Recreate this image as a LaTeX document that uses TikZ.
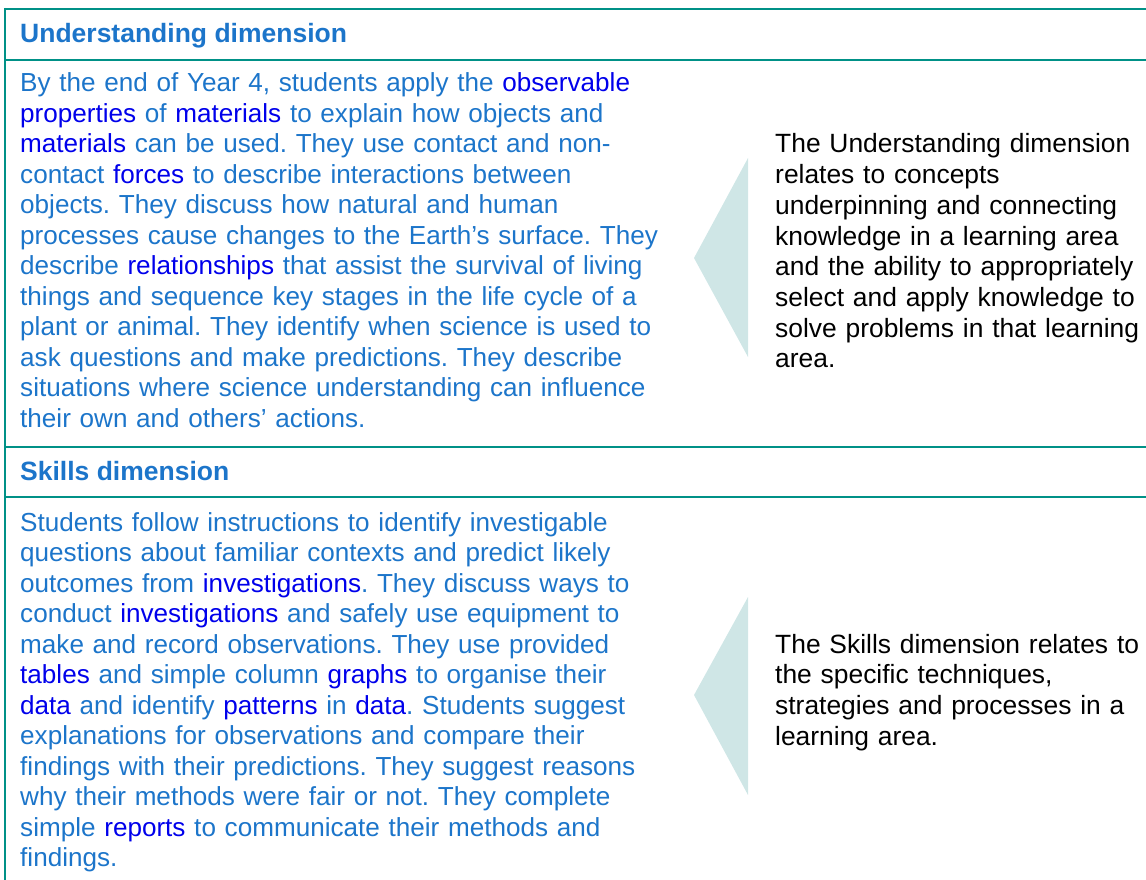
\documentclass[tikz,border=0pt]{standalone}
\usepackage{fontspec}
\setmainfont{Liberation Sans}
\frenchspacing

\definecolor{rulegreen}{RGB}{0,145,135}
\definecolor{dimblue}{RGB}{28,117,202}
\definecolor{termblue}{RGB}{0,0,235}
\definecolor{pointerfill}{RGB}{207,230,230}

% glossary terms in the achievement standard
\newcommand{\term}[1]{\textcolor{termblue}{#1}}
\newcommand{\headfont}{\fontsize{26.5}{30.5}\selectfont}
\newcommand{\bodyfont}{\fontsize{26.1}{30.5}\selectfont}
\newcommand{\notefont}{\fontsize{26.4}{30.7}\selectfont}

\tikzset{
  dimhead/.style={anchor=base west,inner sep=0pt,text=dimblue,font=\headfont\bfseries},
  dimtext/.style={anchor=base west,inner sep=0pt,text=dimblue,align=left,text width=660pt,font=\bodyfont},
  dimnote/.style={anchor=base west,inner sep=0pt,text=black,align=left,text width=370pt,font=\notefont},
  tablerule/.style={draw=rulegreen,line width=2pt},
  pointer/.style={fill=pointerfill,draw=none}
}

\begin{document}
\begin{tikzpicture}[x=1pt,y=-1pt]
    \useasboundingbox (0,0) rectangle (1146,880);

    % Table rules
    \draw[tablerule] (5,9) -- (1146,9);
    \draw[tablerule] (5,60) -- (1146,60);
    \draw[tablerule] (5,447) -- (1146,447);
    \draw[tablerule] (5,497) -- (1146,497);
    \draw[tablerule] (5,8) -- (5,880);

    % Understanding dimension
    \node[dimhead] (underhead) at (20,43) {Understanding dimension};
    \node[dimtext] (undertext) at (20,92) {By the end of Year 4, students apply the \term{observable}\\
\term{properties} of \term{materials} to explain how objects and\\
\term{materials} can be used. They use contact and non-\\
contact \term{forces} to describe interactions between\\
objects. They discuss how natural and human\\
processes cause changes to the Earth’s surface. They\\
describe \term{relationships} that assist the survival of living\\
things and sequence key stages in the life cycle of a\\
plant or animal. They identify when science is used to\\
ask questions and make predictions. They describe\\
situations where science understanding can influence\\
their own and others’ actions.};

    % pointer and note
    \fill[pointer] (748,158) -- (694,258) -- (748,357) -- cycle;
    \node[dimnote] (undernote) at (775,153) {The Understanding dimension\\
relates to concepts\\
underpinning and connecting\\
knowledge in a learning area\\
and the ability to appropriately\\
select and apply knowledge to\\
solve problems in that learning\\
area.};

    % Skills dimension
    \node[dimhead] (skillhead) at (20,480) {Skills dimension};
    \node[dimtext] (skilltext) at (20,531) {Students follow instructions to identify investigable\\
questions about familiar contexts and predict likely\\
outcomes from \term{investigations}. They discuss ways to\\
conduct \term{investigations} and safely use equipment to\\
make and record observations. They use provided\\
\term{tables} and simple column \term{graphs} to organise their\\
\term{data} and identify \term{patterns} in \term{data}. Students suggest\\
explanations for observations and compare their\\
findings with their predictions. They suggest reasons\\
why their methods were fair or not. They complete\\
simple \term{reports} to communicate their methods and\\
findings.};

    % pointer and note
    \fill[pointer] (748,597) -- (694,695) -- (748,795) -- cycle;
    \node[dimnote] (skillnote) at (775,653) {The Skills dimension relates to\\
the specific techniques,\\
strategies and processes in a\\
learning area.};
\end{tikzpicture}
\end{document}
